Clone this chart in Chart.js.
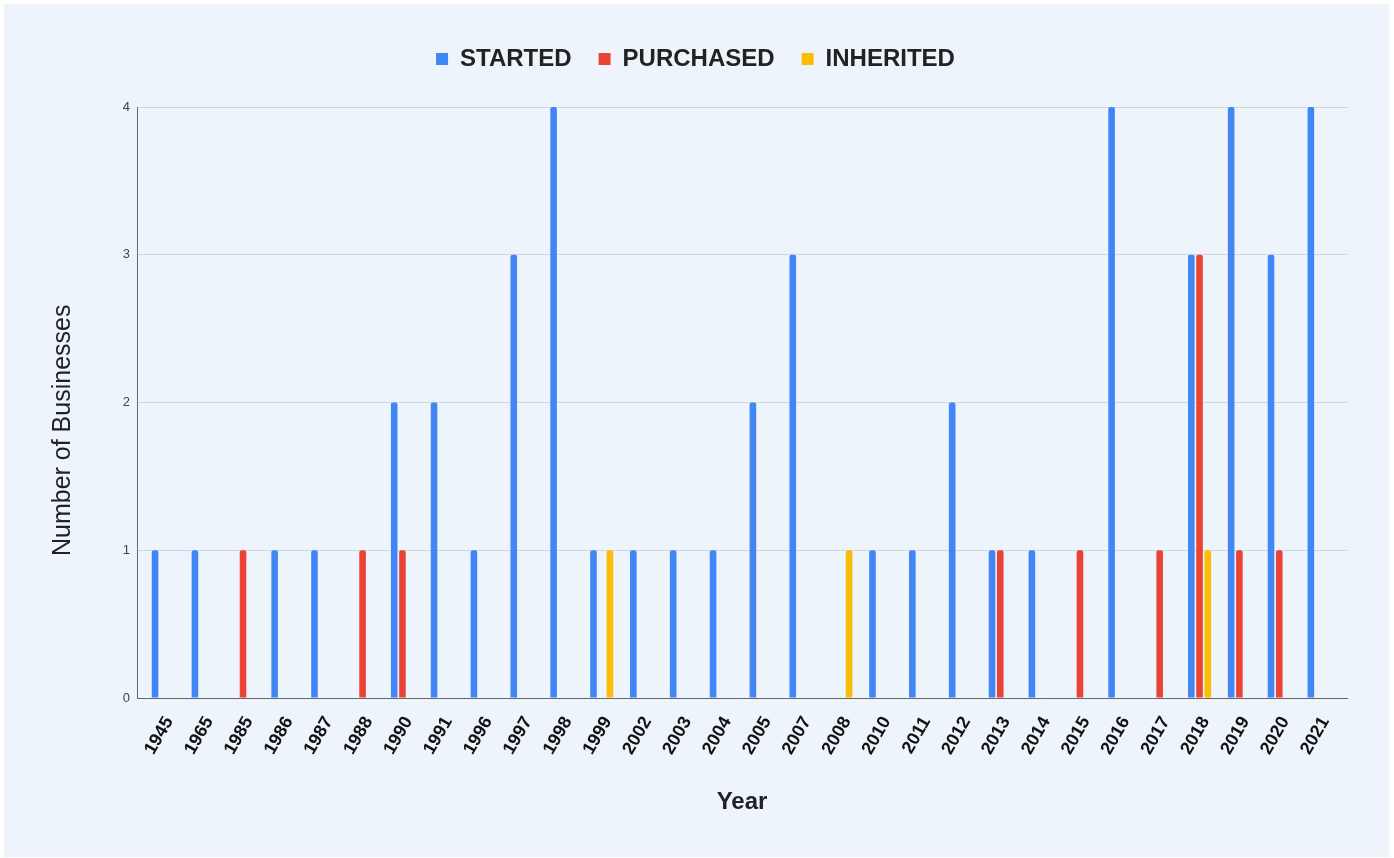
<!DOCTYPE html>
<html>
<head>
<meta charset="utf-8">
<script src="https://cdn.jsdelivr.net/npm/chart.js@4/dist/chart.umd.min.js"></script>
<style>
  html, body { margin: 0; padding: 0; background: #fff; }
  #panel { position: absolute; left: 4px; top: 4px; width: 1385px; height: 853px; background: #EDF4FC; }
  #wrap { position: absolute; left: 0; top: 0; width: 1394px; height: 858px; }
</style>
</head>
<body>
<div id="panel"></div>
<div id="wrap"><canvas id="chart"></canvas></div>
<script>
const years = ["1945", "1965", "1985", "1986", "1987", "1988", "1990", "1991", "1996", "1997",
  "1998", "1999", "2002", "2003", "2004", "2005", "2007", "2008", "2010", "2011",
  "2012", "2013", "2014", "2015", "2016", "2017", "2018", "2019", "2020", "2021"];

const started   = [1, 1, 0, 1, 1, 0, 2, 2, 1, 3, 4, 1, 1, 1, 1, 2, 3, 0, 1, 1, 2, 1, 1, 0, 4, 0, 3, 4, 3, 4];
const purchased = [0, 0, 1, 0, 0, 1, 1, 0, 0, 0, 0, 0, 0, 0, 0, 0, 0, 0, 0, 0, 0, 1, 0, 1, 0, 1, 3, 1, 1, 0];
const inherited = [0, 0, 0, 0, 0, 0, 0, 0, 0, 0, 0, 1, 0, 0, 0, 0, 0, 1, 0, 0, 0, 0, 0, 0, 0, 0, 1, 0, 0, 0];

const yTicks = [0, 1, 2, 3, 4];

const font = "'Liberation Sans', Arial, sans-serif";

// push the plot down a little below the legend
const legendGap = {
  id: "legendGap",
  beforeInit(chart) {
    const fit = chart.legend.fit;
    chart.legend.fit = function () {
      fit.bind(chart.legend)();
      this.height += 26;
    };
  }
};

// year index on a linear axis so the outer margins match the original
function bar(label, values, color) {
  return {
    label,
    data: values.map((v, i) => ({ x: i, y: v })),
    backgroundColor: color,
    borderRadius: { topLeft: 2, topRight: 2 },
    borderSkipped: "bottom",
    categoryPercentage: 0.62,
    barPercentage: 0.8
  };
}

new Chart(document.getElementById("chart"), {
  type: "bar",
  data: {
    datasets: [
      bar("STARTED", started, "#4285F4"),
      bar("PURCHASED", purchased, "#EA4335"),
      bar("INHERITED", inherited, "#FBBC04")
    ]
  },
  plugins: [legendGap],
  options: {
    responsive: true,
    maintainAspectRatio: false,
    animation: false,
    layout: { padding: { left: 44, right: 47, top: 20, bottom: 37 } },
    plugins: {
      legend: {
        position: "top",
        labels: {
          boxWidth: 12, boxHeight: 12, padding: 27,
          color: "#222",
          font: { family: font, size: 24, weight: "bold" }
        }
      },
      tooltip: { enabled: false }
    },
    scales: {
      x: {
        type: "linear",
        offset: false,
        min: -0.66, max: 29.7,
        afterBuildTicks(s) { s.ticks = years.map((_, i) => ({ value: i })); },
        grid: { display: false },
        border: { display: true, color: "#666", width: 1 },
        ticks: {
          color: "#111",
          minRotation: 60, maxRotation: 60,
          padding: 7,
          labelOffset: 6,
          autoSkip: false,
          callback: v => years[v],
          font: { family: font, size: 18, weight: "bold" }
        },
        title: {
          display: true, text: "Year", color: "#222",
          font: { family: font, size: 24, weight: "bold" }
        },
        afterFit(s) { s.height = 123; }
      },
      y: {
        min: 0, max: 4,
        afterBuildTicks(s) { s.ticks = yTicks.map(v => ({ value: v })); },
        grid: { color: "#CFD6DE", drawTicks: false },
        border: { display: true, color: "#666", width: 1 },
        ticks: {
          color: "#444", padding: 7,
          font: { family: font, size: 13 }
        },
        title: {
          display: true, text: "Number of Businesses        ", color: "#222",
          font: { family: font, size: 25 }
        },
        afterFit(s) { s.width = 93; }
      }
    }
  }
});
</script>
</body>
</html>
